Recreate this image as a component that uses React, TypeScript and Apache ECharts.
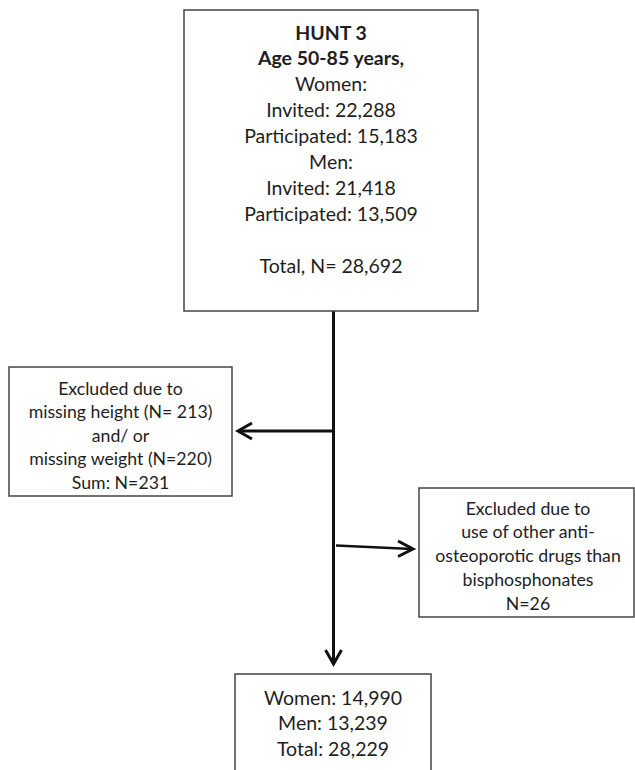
import React, { useEffect, useRef } from "react";
import * as echarts from "echarts";

// ---- content ----
const topTitle: string[] = ["HUNT 3", "Age 50-85 years,"];
const topLines: string[] = [
  "Women:",
  "Invited: 22,288",
  "Participated: 15,183",
  "Men:",
  "Invited: 21,418",
  "Participated: 13,509",
  "",
  "Total, N= 28,692",
];
const leftLines: string[] = [
  "Excluded due to",
  "missing height (N= 213)",
  "and/ or",
  "missing weight (N=220)",
  "Sum: N=231",
];
const rightLines: string[] = [
  "Excluded due to",
  "use of other anti-",
  "osteoporotic drugs than",
  "bisphosphonates",
  "N=26",
];
const bottomLines: string[] = ["Women: 14,990", "Men: 13,239", "Total: 28,229"];

const FONT = "Lato, 'Noto Sans', sans-serif";
const TEXT_COLOR = "#1e1e1e";
const BORDER_COLOR = "#444";
const ARROW_COLOR = "#111";

function box(x: number, y: number, w: number, h: number) {
  return {
    type: "rect",
    shape: { x, y, width: w, height: h },
    style: { fill: "#fff", stroke: BORDER_COLOR, lineWidth: 1.5 },
  };
}

function textLines(
  lines: { t: string; bold?: boolean }[],
  cx: number,
  y0: number,
  step: number,
  size: number
) {
  return lines.map((l, i) => ({
    type: "text",
    x: cx,
    y: y0 + i * step,
    style: {
      text: l.t,
      fill: TEXT_COLOR,
      font: `${l.bold ? "bold " : ""}${size}px ${FONT}`,
      textAlign: "center",
      textVerticalAlign: "middle",
    },
  }));
}

function arrowHead(points: number[][]) {
  return {
    type: "polyline",
    shape: { points },
    style: { stroke: ARROW_COLOR, lineWidth: 3, fill: "none", lineJoin: "miter" },
  };
}

export default function App() {
  const ref = useRef<HTMLDivElement>(null);
  useEffect(() => {
    document.body.style.margin = "0";
    if (!ref.current) return;
    const chart = echarts.init(ref.current, undefined, { renderer: "svg" });

    const topAll = [
      ...topTitle.map((t) => ({ t, bold: true })),
      ...topLines.map((t) => ({ t })),
    ];

    const elements: any[] = [
      // connectors
      {
        type: "line",
        shape: { x1: 333.5, y1: 311, x2: 333.5, y2: 664 },
        style: { stroke: ARROW_COLOR, lineWidth: 3 },
      },
      {
        type: "line",
        shape: { x1: 333.5, y1: 431, x2: 239, y2: 431 },
        style: { stroke: ARROW_COLOR, lineWidth: 3 },
      },
      arrowHead([
        [252, 423],
        [238, 431],
        [252, 439],
      ]),
      {
        type: "line",
        shape: { x1: 336, y1: 545.5, x2: 412, y2: 549 },
        style: { stroke: ARROW_COLOR, lineWidth: 2.5 },
      },
      arrowHead([
        [398, 541],
        [413, 549],
        [398, 556.5],
      ]),
      arrowHead([
        [325.5, 650],
        [333.5, 664],
        [341.5, 650],
      ]),
      // boxes
      box(184, 10, 294, 301),
      box(9, 367, 223, 129),
      box(419, 488, 215, 129),
      box(235, 674, 196, 110),
      // texts
      ...textLines(topAll, 331, 32, 25.9, 19.5),
      ...textLines(leftLines.map((t) => ({ t })), 120.5, 388, 23.5, 17.7),
      ...textLines(rightLines.map((t) => ({ t })), 528, 508, 23.75, 17.7),
      ...textLines(bottomLines.map((t) => ({ t })), 333, 697, 25.5, 19.5),
    ];

    chart.setOption({
      animation: false,
      backgroundColor: "#fff",
      graphic: { elements },
    });
    return () => chart.dispose();
  }, []);
  return <div ref={ref} style={{ width: 635, height: 770 }} />;
}
